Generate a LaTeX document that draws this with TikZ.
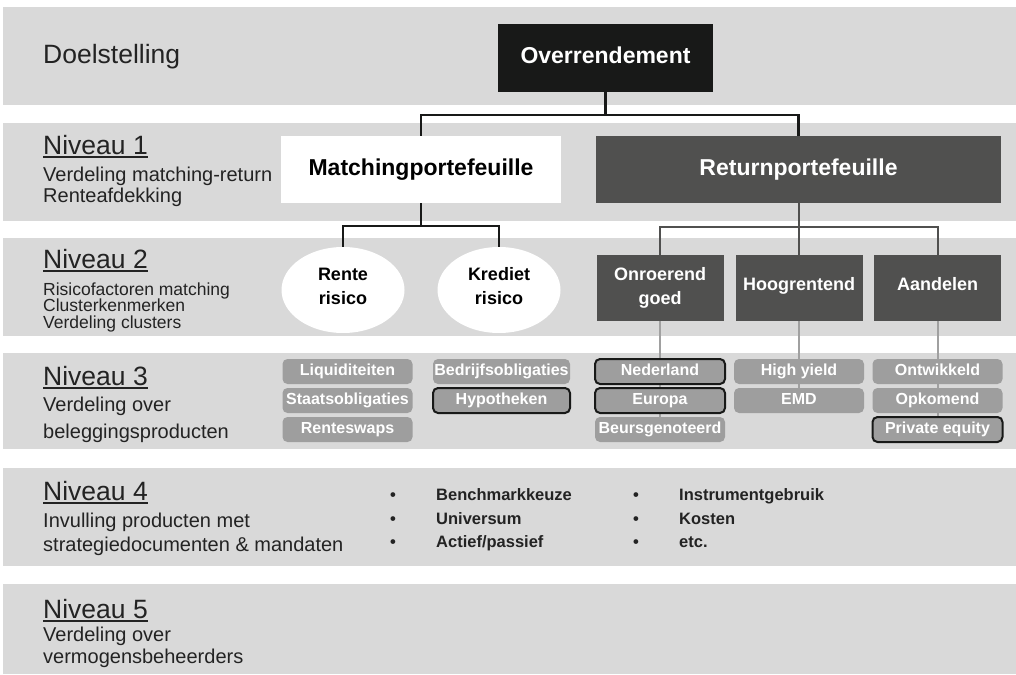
\documentclass[tikz,border=0pt]{standalone}
\usepackage{fontspec}
\setmainfont{Liberation Sans}
\usetikzlibrary{positioning,shapes.geometric,backgrounds}
\definecolor{nvband}{RGB}{217,217,217}
\definecolor{nvblack}{RGB}{24,25,24}
\definecolor{nvdark}{RGB}{80,80,79}
\definecolor{nvpill}{RGB}{158,158,158}
\definecolor{nvline}{RGB}{160,160,160}
\definecolor{nvtext}{RGB}{35,35,35}
\newcommand\nivfont{\fontsize{26.5}{28}\selectfont}
\newcommand\nivhead[1]{\setbox0\hbox{#1}\rlap{\rule[-3.5pt]{\wd0}{1.5pt}}\box0}
\newcommand\itembullet{\makebox[46pt][l]{\textbullet}}
\tikzset{
    band/.style={fill=nvband,draw=none},
    block/.style={
        fill=#1,draw=none,inner sep=0pt,outer sep=0pt,align=center,
        text=white,font=\bfseries\fontsize{23}{26}\selectfont,
        text height=16pt,text depth=5pt
    },
    block/.default=nvdark,
    cluster/.style={
        fill=nvdark,inner sep=0pt,outer sep=0pt,minimum width=127pt,
        minimum height=66pt,align=center,text=white,
        font=\bfseries\fontsize{18}{24}\selectfont
    },
    risk/.style={
        ellipse,fill=white,inner sep=0pt,outer sep=0pt,minimum width=123pt,
        minimum height=86pt,align=center,text=black,text depth=8pt,
        font=\bfseries\fontsize{18}{24}\selectfont
    },
    product/.style={
        fill=nvpill,rounded corners=5pt,inner sep=0pt,outer sep=0pt,
        minimum width=#1,minimum height=25pt,text=white,
        font=\bfseries\fontsize{16}{18}\selectfont,
        text height=11.5pt,text depth=3.5pt
    },
    product/.default=130pt,
    marked/.style={draw=nvblack,line width=2pt},
    label/.style={anchor=base west,inner sep=0pt,align=left,text=nvtext,font=#1},
    label/.default=\nivfont,
    item/.style={anchor=base west,inner sep=0pt,text=nvtext,font=\bfseries\fontsize{16.5}{18}\selectfont},
    link/.style={draw=#1,line width=2.4pt},
    link/.default=nvblack
}

\begin{document}
\begin{tikzpicture}[x=1pt,y=-1pt]
\useasboundingbox (0,0) rectangle (1016,674);

\node[label] (doelstelling) at (43,64) {Doelstelling};
\node[label] (niv1) at (43,154) {\nivhead{Niveau 1}};
\node[label=\fontsize{20}{21.5}\selectfont] (niv1txt) at (43,202.5)
{Verdeling matching-return\\Renteafdekking};
\node[label] (niv2) at (43,268) {\nivhead{Niveau 2}};
\node[label=\fontsize{17.5}{16.5}\selectfont] (niv2txt) at (43,328)
{Risicofactoren matching\\Clusterkenmerken\\Verdeling clusters};
\node[label] (niv3) at (43,385) {\nivhead{Niveau 3}};
\node[label=\fontsize{20}{27}\selectfont] (niv3txt) at (43,438)
{Verdeling over\\beleggingsproducten};
\node[label] (niv4) at (43,500) {\nivhead{Niveau 4}};
\node[label=\fontsize{20}{23.5}\selectfont] (niv4txt) at (43,551)
{Invulling producten met\\strategiedocumenten \& mandaten};
\node[label] (niv5) at (43,618) {\nivhead{Niveau 5}};
\node[label=\fontsize{20}{21.5}\selectfont] (niv5txt) at (43,663)
{Verdeling over\\vermogensbeheerders};

\node[block=nvblack,minimum width=215pt,minimum height=68pt]
(doel) at (605.5,58) {Overrendement};

\node[block=white,text=black,minimum width=280pt,minimum height=67pt]
(match) at (421,169.5) {Matchingportefeuille};

\node[block,minimum width=405pt,minimum height=67pt]
(ret) at (798.5,169.5) {Returnportefeuille};

\node[risk] (rente) at (343,290) {Rente\\risico};
\node[risk] (krediet) at (499,290) {Krediet\\risico};

\node[cluster] (onroerend) at (660,288) {Onroerend\\goed};
\node[cluster,text height=13pt,text depth=9pt] (hoog) at (799,288) {Hoogrentend};
\node[cluster,text height=13pt,text depth=9pt] (aandelen) at (937.5,288) {Aandelen};

\node[product] (liq) at (347.5,371.5) {Liquiditeiten};
\node[product,below=4pt of liq] (staat) {Staatsobligaties};
\node[product,below=4pt of staat] (swaps) {Renteswaps};

\node[product=137pt] (bedrijf) at (501.5,371.5) {Bedrijfsobligaties};
\node[product=137pt,marked,below=4pt of bedrijf] (hypo) {Hypotheken};

\node[product,marked] (ned) at (660,371.5) {Nederland};
\node[product,marked,below=4pt of ned] (europa) {Europa};
\node[product,below=4pt of europa] (beurs) {Beursgenoteerd};

\node[product] (hy) at (799,371.5) {High yield};
\node[product,below=4pt of hy] (emd) {EMD};

\node[product] (ontw) at (937.5,371.5) {Ontwikkeld};
\node[product,below=4pt of ontw] (opk) {Opkomend};
\node[product,marked,below=4pt of opk] (pe) {Private equity};

\node[item] (bench) at (390,500) {\itembullet Benchmarkkeuze};
\node[item] (univ) at (390,524) {\itembullet Universum};
\node[item] (actief) at (390,547) {\itembullet Actief/passief};
\node[item] (instr) at (633,500) {\itembullet Instrumentgebruik};
\node[item] (kosten) at (633,524) {\itembullet Kosten};
\node[item] (etc) at (633,547) {\itembullet etc.};

\begin{pgfonlayer}{background}
\foreach \top/\bot in {7/105,123/221,238/336,353/449,468/566,584/674}
    \fill[band] (3,\top) rectangle (1016,\bot);
\draw[link] (doel.south) -- ++(0,23) -| (match.north);
\draw[link] (doel.south) -- ++(0,23) -| (ret.north);
\draw[link] (match.south) -- ++(0,23) -| (rente.north);
\draw[link] (match.south) -- ++(0,23) -| (krediet.north);
\draw[link=nvdark,line width=2pt] (ret.south) -- ++(0,24) -| (onroerend.north);
\draw[link=nvdark,line width=2pt] (ret.south) -- ++(0,24) -| (hoog.north);
\draw[link=nvdark,line width=2pt] (ret.south) -- ++(0,24) -| (aandelen.north);
\draw[link=nvline,line width=2pt] (onroerend) -- (beurs);
\draw[link=nvline,line width=2pt] (hoog) -- (emd);
\draw[link=nvline,line width=2pt] (aandelen) -- (pe);
\end{pgfonlayer}

\end{tikzpicture}
\end{document}
